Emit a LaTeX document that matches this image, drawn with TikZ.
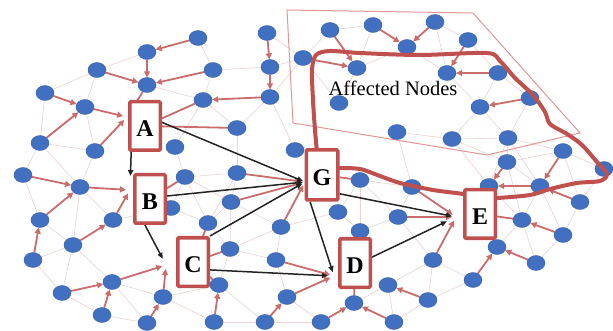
\documentclass[tikz,border=0pt]{standalone}
\usepackage{fontspec}
\setmainfont{Liberation Serif}
\usetikzlibrary{arrows.meta,shapes.geometric}
\pgfdeclarelayer{background}
\pgfdeclarelayer{outline}
\pgfdeclarelayer{foreground}
\pgfsetlayers{background,main,outline,foreground}

\definecolor{dotblue}{RGB}{66,112,192}
\definecolor{dotedge}{RGB}{52,92,165}
\definecolor{arrred}{RGB}{202,108,108}
\definecolor{boxred}{RGB}{192,80,77}
\definecolor{meshpink}{RGB}{236,210,210}
\definecolor{zonepink}{RGB}{228,150,150}
\definecolor{linkgray}{RGB}{35,35,35}

\newcommand\boxletter[1]{\raisebox{-3pt}[\height][\depth]{#1}}

% node positions of the network
\def\dotlist{198/38,267/33,147/52,270/67,97/70,213/70,147/85,45/93,85/107,203/100,
270/97,237/128,40/143,95/151,175/147,295/150,23/175,80/187,185/177,237/173,
40/220,113/220,171/208,231/202,208/223,281/227,73/245,33/260,230/249,276/260,
112/282,62/293,163/297,219/285,287/297,102/315,147/323,214/322,265/322,321/322,
354/303,394/322,388/285,428/300,473/280,497/247,536/263,433/260,360/231,338/212,
398/217,360/180,412/187,489/186,540/186,580/202,522/220,563/235,507/162,563/151,
604/169,508/138,452/139,397/132,339/103,480/107,530/98,447/73,498/73,357/68,
303/58,330/30,373/25,435/22,407/47,468/40}

\begin{document}
\begin{tikzpicture}[x=1pt,y=-1pt,
  dot/.style={ellipse, minimum width=18pt, minimum height=15pt, inner sep=0pt,
    fill=dotblue, draw=dotedge, line width=0.4pt},
  mesh/.style={draw=meshpink, line width=0.6pt},
  redarrow/.style={draw=arrred, line width=1.8pt, -{Triangle[length=6pt,width=6pt]}},
  redlink/.style={draw=arrred, line width=1.8pt},
  blackarrow/.style={draw=linkgray, line width=1.5pt, -{Triangle[length=6pt,width=5pt]}},
  letterbox/.style={draw=boxred, line width=3.5pt, fill=white, minimum width=30.5pt,
    minimum height=48.5pt, inner sep=0pt, rounded corners=1pt,
    font=\fontsize{24}{24}\selectfont\bfseries},
  zone/.style={draw=zonepink, line width=1pt},
  affected/.style={draw=boxred, line width=4pt, line join=round},
]
\useasboundingbox (0,0) rectangle (613,331);

% network nodes
\foreach \x/\y [count=\i] in \dotlist { \node[dot] (n\i) at (\x,\y) {}; }

% points where the labelled vertices sit
\coordinate (pA) at (127,117);
\coordinate (pB) at (130,190);
\coordinate (pC) at (166,265);
\coordinate (pG) at (305,182);
\coordinate (pD) at (334,276);
\coordinate (pE) at (456,217);

% labelled boxes
\begin{pgfonlayer}{foreground}
\node[letterbox] (bA) at (145,126) {\boxletter{A}};
\node[letterbox] (bB) at (150,199) {\boxletter{B}};
\node[letterbox] (bC) at (193,262) {\boxletter{C}};
\node[letterbox, minimum width=31.5pt, minimum height=50pt] (bG) at (322,175) {\boxletter{G}};
\node[letterbox] (bD) at (355,263) {\boxletter{D}};
\node[letterbox] (bE) at (480,214) {\boxletter{E}};
\node[font=\fontsize{20.5}{22}\selectfont] (label) at (393,88) {Affected Nodes};
\end{pgfonlayer}

\begin{pgfonlayer}{background}
\fill[white] (0,0) rectangle (613,331);
% faint mesh between neighbouring nodes
\foreach \xa/\ya [count=\i] in \dotlist {
  \foreach \xb/\yb [count=\j] in \dotlist {
    \ifnum\j>\i\relax
      \pgfmathtruncatemacro\isnear{veclen(\xb-\xa,\yb-\ya)<60}
      \ifnum\isnear=1\relax \draw[mesh] (n\i.center) -- (n\j.center); \fi
    \fi
  }
}
% region boundary
\draw[zone] (287,10) -- (473,13) -- (580,133) -- (487,155) -- (293,123) -- cycle;
% propagation arrows
\foreach \s/\t in {1/3,3/7,5/7,6/7,2/4,4/11,11/10,8/9,13/9,17/18,21/18,28/21,27/22,
  32/31,36/31,37/33,38/34,39/35,40/41,42/41,44/43,45/46,47/46,58/57,55/54,56/55,
  59/54,60/55,72/70,73/75,74/75,76/68,71/70,69/68,67/66}
  \draw[redarrow] (n\s) -- (n\t);
\foreach \s/\t in {9/A,14/A,7/A,18/B,22/B,20/G,24/G,26/G,31/C,33/C,30/D,35/D,53/E,51/E,48/E}
  \draw[redarrow, shorten >=4pt] (n\s) -- (p\t);
\foreach \s/\t in {10/A,12/A,19/B,25/C,29/C,34/C,41/D,46/E,57/E,52/G}
  \draw[redlink] (n\s) -- (b\t);
\end{pgfonlayer}

% links between labelled vertices
\draw[blackarrow, shorten >=14pt] (bA.242) -- (pB);
\draw[blackarrow, shorten >=2pt] (bA.12) -- (pG);
\draw[blackarrow, shorten >=2pt] (bB.10) -- (pG);
\draw[blackarrow, shorten >=3pt] (bC.north east) -- (pG);
\draw[blackarrow, shorten >=7pt] (bB.259) -- (pC);
\draw[blackarrow, shorten >=6pt] (bC.-25) -- (pD);
\draw[blackarrow, shorten >=4pt] (bG.246) -- (pD);
\draw[blackarrow, shorten >=4pt] (bG.-47) -- (pE);
\draw[blackarrow, shorten >=10pt] (bD.19) -- (pE);

% hand-drawn outline of the affected area
\begin{pgfonlayer}{outline}
\draw[affected] plot[smooth cycle, tension=0.5] coordinates {
  (318,160) (315,130) (313,100) (312,70) (316,55) (330,51) (360,53) (420,55)
  (487,53) (500,61) (515,78) (533,95) (545,112) (550,124) (567,134) (582,145)
  (597,162) (607,174) (600,181) (577,183) (550,189) (530,195) (497,198) (480,198)
  (463,194) (433,190) (400,183) (380,176) (360,169) (338,168) (322,168)};
\end{pgfonlayer}
\end{tikzpicture}
\end{document}
